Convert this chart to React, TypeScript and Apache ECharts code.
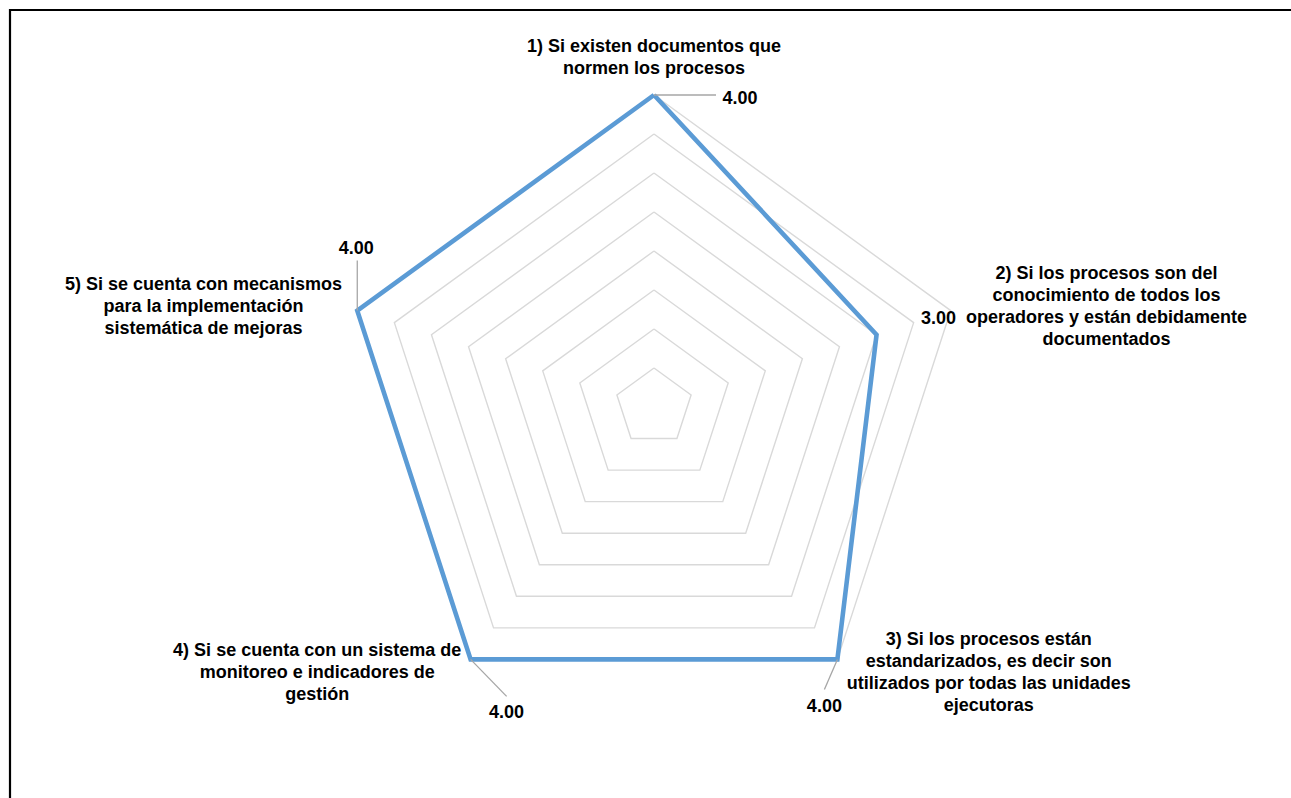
import React, { useEffect, useRef } from "react";
import * as echarts from "echarts";

// ---- data ----
const categories: string[] = [
  "1) Si existen documentos que\nnormen los procesos",
  "2) Si los procesos son del\nconocimiento de todos los\noperadores y están debidamente\ndocumentados",
  "3) Si los procesos están\nestandarizados, es decir son\nutilizados por todas las unidades\nejecutoras",
  "4) Si se cuenta con un sistema de\nmonitoreo e indicadores de\ngestión",
  "5) Si se cuenta con mecanismos\npara la implementación\nsistemática de mejoras",
];
const values: number[] = [4, 3, 4, 4, 4];
const axisMin = 0;
const axisMax = 4;
const splitCount = 8;

// ECharts lays radar indicators out counter-clockwise; the reference runs clockwise.
const order = [0, 4, 3, 2, 1];

// ---- styles (label placement relative to each data vertex, by category) ----
const labelOffsets: [number, number][] = [
  [86, 3],
  [62, -17],
  [-13, 47],
  [36, 53],
  [-1, -63],
];
const leaderEnds: ([number, number] | null)[] = [
  [62, 0],
  null,
  [-13, 30],
  [36, 37],
  [0, -50],
];

const FONT = "'Liberation Sans', Arial, sans-serif";

export default function App() {
  const ref = useRef<HTMLDivElement>(null);

  useEffect(() => {
    document.body.style.margin = "0";
    if (!ref.current) return;
    const chart = echarts.init(ref.current, undefined, { renderer: "svg" });
    const border = {
      id: "border",
      type: "rect",
      shape: { x: 10, y: 10, width: 1300, height: 820 },
      style: { fill: "none", stroke: "#000000", lineWidth: 2.2 },
      silent: true,
    };
    chart.setOption({
      animation: false,
      backgroundColor: "#ffffff",
      radar: {
        center: [654, 407],
        radius: 312,
        startAngle: 90,
        shape: "polygon",
        splitNumber: splitCount,
        nameGap: 16,
        indicator: order.map((k) => ({ name: categories[k], min: axisMin, max: axisMax })),
        axisName: {
          formatter: (name: string) =>
            name
              .split("\n")
              .map((l) => `{c|${l}}`)
              .join("\n"),
          rich: {
            c: {
              align: "center",
              fontSize: 18,
              fontWeight: "bold",
              fontFamily: FONT,
              color: "#000000",
              lineHeight: 22,
            },
          },
        },
        axisLine: { show: false },
        axisTick: { show: false },
        axisLabel: { show: false },
        splitArea: { show: false },
        splitLine: { lineStyle: { color: "#d9d9d9", width: 1.4 } },
      },
      series: [
        {
          type: "radar",
          symbol: "none",
          lineStyle: { color: "#5B9BD5", width: 4.6, join: "miter" },
          data: [{ value: order.map((k) => values[k]), name: "Serie" }],
        },
      ],
      graphic: [border],
    });

    // data labels positioned from the radar's own coordinate system
    const radar = (chart as any).getModel().getComponent("radar", 0).coordinateSystem;
    const extra: any[] = [];
    order.forEach((k, j) => {
      const v = values[k];
      const p = radar.dataToPoint(v, j);
      const off = labelOffsets[k];
      const le = leaderEnds[k];
      if (le) {
        extra.push({
          type: "line",
          silent: true,
          shape: { x1: p[0], y1: p[1], x2: p[0] + le[0], y2: p[1] + le[1] },
          style: { stroke: "#a6a6a6", lineWidth: 1.3 },
          z: 5,
        });
      }
      extra.push({
        type: "text",
        silent: true,
        x: p[0] + off[0],
        y: p[1] + off[1],
        style: {
          text: v.toFixed(2),
          fontSize: 18,
          fontWeight: "bold",
          fontFamily: FONT,
          fill: "#000000",
          align: "center",
          verticalAlign: "middle",
        },
        z: 10,
      });
    });
    chart.setOption({ graphic: [border, ...extra] });

    return () => chart.dispose();
  }, []);

  return <div ref={ref} style={{ width: 1291, height: 798 }} />;
}
